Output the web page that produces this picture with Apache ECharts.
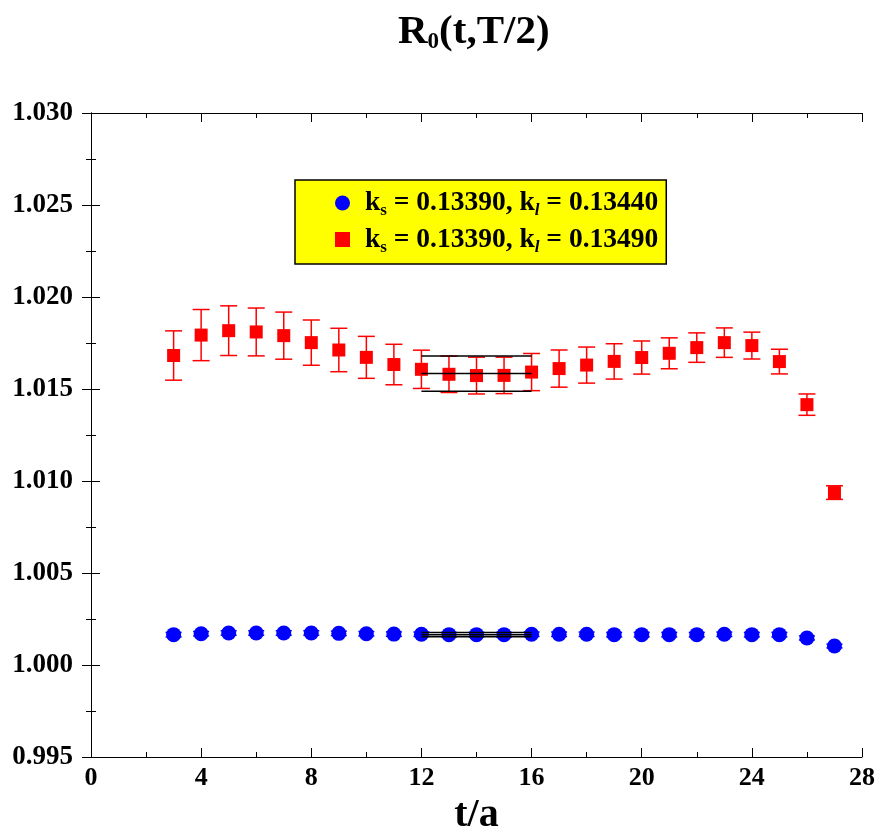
<!DOCTYPE html>
<html>
<head>
<meta charset="utf-8">
<script src="https://cdn.jsdelivr.net/npm/echarts@6/dist/echarts.min.js"></script>
<style>html,body{margin:0;padding:0;background:#fff}#c{width:878px;height:826px}</style>
</head>
<body>
<div id="c"></div>
<script>
var tValues = [3,4,5,6,7,8,9,10,11,12,13,14,15,16,17,18,19,20,21,22,23,24,25,26,27];
var redValues = [1.01682,1.01793,1.01817,1.01810,1.01790,1.01752,1.01712,1.01672,1.01633,1.01607,1.01580,1.01573,1.01574,1.01592,1.01611,1.01630,1.01650,1.01671,1.01694,1.01725,1.01752,1.01736,1.01649,1.01415,1.00937];
var redErrors = [0.00134,0.00139,0.00135,0.00130,0.00128,0.00123,0.00118,0.00114,0.00110,0.00104,0.00099,0.00100,0.00099,0.00101,0.00101,0.00098,0.00096,0.00090,0.00084,0.00080,0.00080,0.00073,0.00067,0.00058,0.00037];
var blueValues = [1.00165,1.00170,1.00174,1.00174,1.00174,1.00174,1.00172,1.00170,1.00168,1.00167,1.00165,1.00165,1.00165,1.00167,1.00167,1.00167,1.00165,1.00165,1.00165,1.00165,1.00167,1.00165,1.00165,1.00147,1.00103];
var blueErrors = [0.00012,0.00012,0.00012,0.00012,0.00012,0.00012,0.00012,0.00012,0.00012,0.00012,0.00012,0.00012,0.00012,0.00012,0.00012,0.00012,0.00012,0.00012,0.00012,0.00012,0.00012,0.00012,0.00012,0.00011,0.00010];
var fitRange = [12, 16];
var redFit = [1.01584, 0.00096];
var blueFit = [1.00165, 0.00012];
var seriesNames = ['ks_0.13390_kl_0.13440', 'ks_0.13390_kl_0.13490'];
var legendKs = ['0.13390', '0.13390'];
var legendKl = ['0.13440', '0.13490'];
var xTicks = {min: 0, max: 28, interval: 4};
var yTicks = {min: 0.995, max: 1.030, interval: 0.005};

var FONT = '"Liberation Serif", "DejaVu Serif", serif';

function pts(vals) { return tValues.map(function (t, i) { return [t, vals[i]]; }); }
function errData(vals, errs) { return tValues.map(function (t, i) { return [t, vals[i] - errs[i], vals[i] + errs[i]]; }); }

function errRender(color, cap) {
  return function (params, api) {
    var lo = api.coord([api.value(0), api.value(1)]);
    var hi = api.coord([api.value(0), api.value(2)]);
    var st = {stroke: color, lineWidth: 1.5};
    return {type: 'group', children: [
      {type: 'line', shape: {x1: lo[0], y1: lo[1], x2: hi[0], y2: hi[1]}, style: st},
      {type: 'line', shape: {x1: lo[0] - cap, y1: lo[1], x2: lo[0] + cap, y2: lo[1]}, style: st},
      {type: 'line', shape: {x1: hi[0] - cap, y1: hi[1], x2: hi[0] + cap, y2: hi[1]}, style: st}
    ]};
  };
}
function fitRender(params, api) {
  var a = api.value(0), b = api.value(1), c = api.value(2), lo = api.value(3), hi = api.value(4);
  var kids = [c, lo, hi].map(function (v) {
    var p1 = api.coord([a, v]), p2 = api.coord([b, v]);
    return {type: 'line', shape: {x1: p1[0], y1: p1[1], x2: p2[0], y2: p2[1]}, style: {stroke: '#000', lineWidth: 1.5}};
  });
  return {type: 'group', children: kids};
}

var legendMap = {};
seriesNames.forEach(function (n, i) {
  legendMap[n] = '{sp|}{b|k}{s|s}{b| = ' + legendKs[i] + ', k}{si|l}{b| = ' + legendKl[i] + '}';
});

var axisCommon = {
  axisLine: {lineStyle: {color: '#000', width: 1}},
  axisTick: {inside: true, length: 9, lineStyle: {color: '#000'}},
  minorTick: {show: true, splitNumber: 2, length: 5, lineStyle: {color: '#000'}},
  splitLine: {show: false}
};

var chart = echarts.init(document.getElementById('c'), null, {renderer: 'canvas'});
chart.setOption({
  animation: false,
  backgroundColor: '#fff',
  title: {
    text: '{r|R}{s|0}{r|(t,T/2)}',
    left: 393, top: 6,
    textStyle: {
      rich: {
        r: {fontFamily: FONT, fontWeight: 'bold', fontSize: 41, color: '#000'},
        s: {fontFamily: FONT, fontWeight: 'bold', fontSize: 23, color: '#000', padding: [20, 0, 0, 0]}
      }
    }
  },
  legend: {
    data: seriesNames,
    orient: 'vertical',
    left: 295, top: 180,
    padding: [9, 8, 8, 40],
    itemGap: 6,
    itemWidth: 15, itemHeight: 15,
    backgroundColor: '#ffff00',
    borderColor: '#000', borderWidth: 1.5,
    formatter: function (n) { return legendMap[n]; },
    textStyle: {
      rich: {
        sp: {width: 10},
        b: {fontFamily: FONT, fontWeight: 'bold', fontSize: 27.5, color: '#000'},
        s: {fontFamily: FONT, fontWeight: 'bold', fontSize: 17, color: '#000', padding: [16, 0, 0, 0]},
        si: {fontFamily: FONT, fontWeight: 'bold', fontStyle: 'italic', fontSize: 17, color: '#000', padding: [16, 0, 0, 0]}
      }
    }
  },
  grid: {left: 91, right: 16, top: 113, bottom: 69, outerBoundsMode: 'none', containLabel: false},
  xAxis: [
    Object.assign({}, axisCommon, {
      type: 'value', min: xTicks.min, max: xTicks.max, interval: xTicks.interval, position: 'bottom',
      name: 't/a', nameLocation: 'middle', nameGap: 25,
      nameTextStyle: {fontFamily: FONT, fontWeight: 'bold', fontSize: 40, color: '#000'},
      axisLabel: {margin: 8, fontFamily: FONT, fontWeight: 'bold', fontSize: 26, color: '#000'}
    }),
    Object.assign({}, axisCommon, {
      type: 'value', min: xTicks.min, max: xTicks.max, interval: xTicks.interval, position: 'top',
      axisLabel: {show: false}
    })
  ],
  yAxis: [
    Object.assign({}, axisCommon, {
      type: 'value', min: yTicks.min, max: yTicks.max, interval: yTicks.interval, position: 'left',
      axisLabel: {margin: 18, fontFamily: FONT, fontWeight: 'bold', fontSize: 27, color: '#000',
        formatter: function (v) { return v.toFixed(3); }}
    }),
    Object.assign({}, axisCommon, {
      type: 'value', min: yTicks.min, max: yTicks.max, interval: yTicks.interval, position: 'right',
      axisLabel: {show: false}
    })
  ],
  series: [
    {type: 'custom', name: 'redErr', renderItem: errRender('#ff0000', 8.5), data: errData(redValues, redErrors), z: 2, silent: true},
    {type: 'custom', name: 'blueErr', renderItem: errRender('#0000ff', 8), data: errData(blueValues, blueErrors), z: 2, silent: true},
    {type: 'scatter', name: seriesNames[0], data: pts(blueValues), symbol: 'circle', symbolSize: 15, itemStyle: {color: '#0000ff', opacity: 1}, z: 3},
    {type: 'scatter', name: seriesNames[1], data: pts(redValues), symbol: 'rect', symbolSize: 13, itemStyle: {color: '#ff0000', opacity: 1}, z: 3},
    {type: 'custom', name: 'fits', renderItem: fitRender, z: 4, silent: true,
      data: [[fitRange[0], fitRange[1], redFit[0], redFit[0] - redFit[1], redFit[0] + redFit[1]],
             [fitRange[0], fitRange[1], blueFit[0], blueFit[0] - blueFit[1], blueFit[0] + blueFit[1]]]}
  ]
});
</script>
</body>
</html>
